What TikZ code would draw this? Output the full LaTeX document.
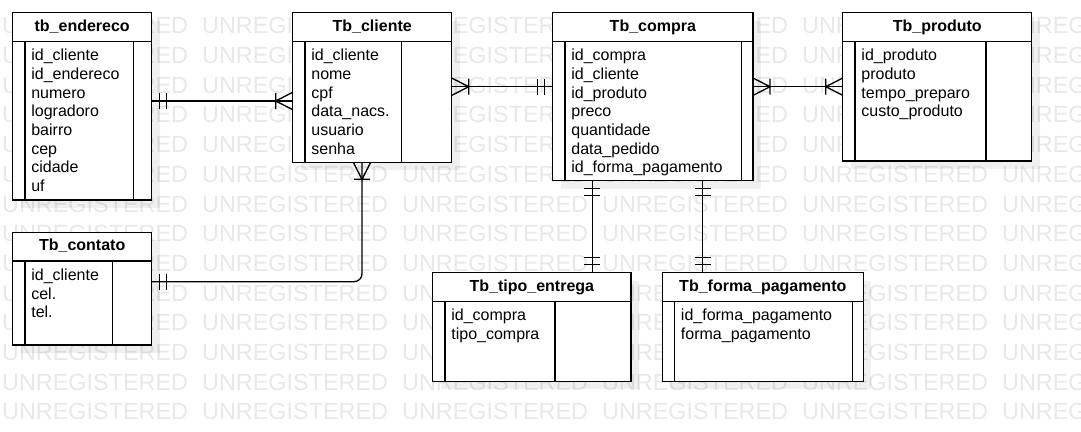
\documentclass[tikz,border=0pt]{standalone}
\usepackage{fontspec}
\setmainfont{Liberation Sans}
\usepackage{tikz}
\usetikzlibrary{calc,positioning,shadows}
\usepackage{xcolor}
\definecolor{marca_cinza}{HTML}{E8E8E8}
\tikzset{
	sombra/.style={drop shadow={shadow xshift=8pt, shadow yshift=-8pt, opacity=0.06, fill=black}},
	cab/.style={draw, fill=white, sombra, anchor=north west, outer sep=0pt, inner xsep=0pt, inner ysep=0pt, text height=18.6pt, text depth=10pt, font=\fontsize{16}{18.7}\selectfont\bfseries},
	corpo/.style={draw, fill=white, sombra, outer sep=0pt, inner sep=0pt},
	campo/.style={anchor=base west, inner sep=0pt, font=\fontsize{16}{18.7}\selectfont},
	marca/.style={anchor=base west, inner sep=0pt, text=marca_cinza, font=\fontsize{23.4}{28}\selectfont},
	umobrig/.pic={\draw (8,-8) -- (8,8) (15,-8) -- (15,8);},
	muitos/.pic={\draw (0,-8.7) -- (17,0) -- (0,8.7) (17,-8) -- (17,8);}
}

\begin{document}
\begin{tikzpicture}[x=1pt, y=-1pt, line width=1.3pt]
	\useasboundingbox (0,0) rectangle (1081,431);
	\begin{scope}
		\clip (0,0) rectangle (1081,431);
		\foreach \i in {0,...,13}
			\foreach \j in {0,...,5}
				\node[marca] (m\i-\j) at (1.5+200*\j, 33.8+29.7*\i) {UNREGISTERED};
	\end{scope}

	\node[cab, minimum width=139pt] (endereco) at (12.7,12.7) {tb\_endereco};
	\node[corpo, minimum width=139pt, minimum height=158.7pt, below=0pt of endereco] (endereco-c) {};
	\draw ([xshift=12.3pt]endereco-c.north west) -- ([xshift=12.3pt]endereco-c.south west);
	\draw ([xshift=-18.4pt]endereco-c.north east) -- ([xshift=-18.4pt]endereco-c.south east);
	\foreach \c [count=\k] in {id\_cliente, id\_endereco, numero, logradoro, bairro, cep, cidade, uf}
		\node[campo] (endereco-\k) at ($(endereco-c.north west)+(18,0.7+18.7*\k)$) {\c};

	\node[cab, minimum width=159pt] (cliente) at (292.7,12.7) {Tb\_cliente};
	\node[corpo, minimum width=159pt, minimum height=121pt, below=0pt of cliente] (cliente-c) {};
	\draw ([xshift=12.3pt]cliente-c.north west) -- ([xshift=12.3pt]cliente-c.south west);
	\draw ([xshift=-50pt]cliente-c.north east) -- ([xshift=-50pt]cliente-c.south east);
	\foreach \c [count=\k] in {id\_cliente, nome, cpf, data\_nacs., usuario, senha}
		\node[campo] (cliente-\k) at ($(cliente-c.north west)+(18,0.7+18.7*\k)$) {\c};

	\node[cab, minimum width=200.3pt] (compra) at (552.7,12.7) {Tb\_compra};
	\node[corpo, minimum width=200.3pt, minimum height=139.4pt, below=0pt of compra] (compra-c) {};
	\draw ([xshift=12.3pt]compra-c.north west) -- ([xshift=12.3pt]compra-c.south west);
	\draw ([xshift=-11.7pt]compra-c.north east) -- ([xshift=-11.7pt]compra-c.south east);
	\foreach \c [count=\k] in {id\_compra, id\_cliente, id\_produto, preco, quantidade, data\_pedido, id\_forma\_pagamento}
		\node[campo] (compra-\k) at ($(compra-c.north west)+(18,0.7+18.7*\k)$) {\c};

	\node[cab, minimum width=188.9pt] (produto) at (842.8,12.7) {Tb\_produto};
	\node[corpo, minimum width=188.9pt, minimum height=119.7pt, below=0pt of produto] (produto-c) {};
	\draw ([xshift=12.3pt]produto-c.north west) -- ([xshift=12.3pt]produto-c.south west);
	\draw ([xshift=-45.7pt]produto-c.north east) -- ([xshift=-45.7pt]produto-c.south east);
	\foreach \c [count=\k] in {id\_produto, produto, tempo\_preparo, custo\_produto}
		\node[campo] (produto-\k) at ($(produto-c.north west)+(18,0.7+18.7*\k)$) {\c};

	\node[cab, minimum width=139pt] (contato) at (12.7,232.3) {Tb\_contato};
	\node[corpo, minimum width=139pt, minimum height=84pt, below=0pt of contato] (contato-c) {};
	\draw ([xshift=12.3pt]contato-c.north west) -- ([xshift=12.3pt]contato-c.south west);
	\draw ([xshift=-39pt]contato-c.north east) -- ([xshift=-39pt]contato-c.south east);
	\foreach \c [count=\k] in {id\_cliente, cel., tel.}
		\node[campo] (contato-\k) at ($(contato-c.north west)+(18,0.7+18.7*\k)$) {\c};

	\node[cab, minimum width=198.3pt] (tipo) at (432.7,272.7) {Tb\_tipo\_entrega};
	\node[corpo, minimum width=198.3pt, minimum height=80pt, below=0pt of tipo] (tipo-c) {};
	\draw ([xshift=12.3pt]tipo-c.north west) -- ([xshift=12.3pt]tipo-c.south west);
	\draw ([xshift=-76pt]tipo-c.north east) -- ([xshift=-76pt]tipo-c.south east);
	\foreach \c [count=\k] in {id\_compra, tipo\_compra}
		\node[campo] (tipo-\k) at ($(tipo-c.north west)+(18,0.7+18.7*\k)$) {\c};

	\node[cab, minimum width=201pt] (forma) at (662.3,272.7) {Tb\_forma\_pagamento};
	\node[corpo, minimum width=201pt, minimum height=80pt, below=0pt of forma] (forma-c) {};
	\draw ([xshift=12.3pt]forma-c.north west) -- ([xshift=12.3pt]forma-c.south west);
	\draw ([xshift=-11pt]forma-c.north east) -- ([xshift=-11pt]forma-c.south east);
	\foreach \c [count=\k] in {id\_forma\_pagamento, forma\_pagamento}
		\node[campo] (forma-\k) at ($(forma-c.north west)+(18,0.7+18.7*\k)$) {\c};

	\draw (endereco-c.east |- 0,101) -- (cliente-c.west |- 0,101);
	\pic at (endereco-c.east |- 0,101) {umobrig};
	\pic[rotate=180] at (cliente-c.west |- 0,101) {muitos};

	\draw (cliente-c.east |- 0,86.7) -- (compra-c.west |- 0,86.7);
	\pic at (cliente-c.east |- 0,86.7) {muitos};
	\pic[rotate=180] at (compra-c.west |- 0,86.7) {umobrig};

	\draw (compra-c.east |- 0,86.7) -- (produto-c.west |- 0,86.7);
	\pic at (compra-c.east |- 0,86.7) {muitos};
	\pic[rotate=180] at (produto-c.west |- 0,86.7) {muitos};

	\draw[rounded corners=8pt] (cliente-c.south -| 362,0) |- (contato-c.east |- 0,281.7);
	\pic[rotate=-90] at (cliente-c.south -| 362,0) {muitos};
	\pic at (contato-c.east |- 0,281.7) {umobrig};

	\draw (compra-c.south -| 592.3,0) -- (tipo.north -| 592.3,0);
	\pic[rotate=-90] at (compra-c.south -| 592.3,0) {umobrig};
	\pic[rotate=90] at (tipo.north -| 592.3,0) {umobrig};

	\draw (compra-c.south -| 702.7,0) -- (forma.north -| 702.7,0);
	\pic[rotate=-90] at (compra-c.south -| 702.7,0) {umobrig};
	\pic[rotate=90] at (forma.north -| 702.7,0) {umobrig};
\end{tikzpicture}
\end{document}
